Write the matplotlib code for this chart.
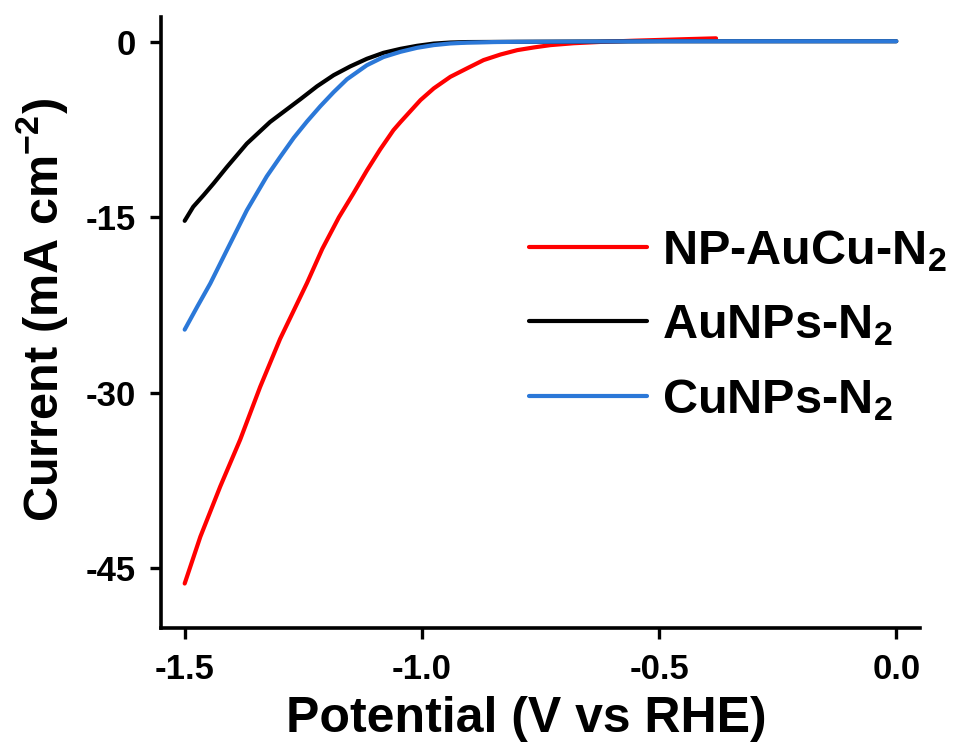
import matplotlib
matplotlib.use("Agg")
import matplotlib.pyplot as plt

plt.rcParams["font.family"] = ["Liberation Sans", "DejaVu Sans"]
plt.rcParams["font.weight"] = "bold"
plt.rcParams["mathtext.fontset"] = "custom"
plt.rcParams["mathtext.rm"] = "Liberation Sans:bold"
plt.rcParams["mathtext.default"] = "regular"

# LSV curves per catalyst (potential in V vs RHE, current in mA cm-2)
pot_aucu = [-1.500, -1.467, -1.425, -1.383, -1.341, -1.299, -1.242, -1.210, -1.175,
            -1.145, -1.116, -1.088, -1.060, -1.045, -1.003, -0.975, -0.940, -0.905,
            -0.870, -0.834, -0.799, -0.764, -0.729, -0.680, -0.620, -0.550, -0.450,
            -0.380]
cur_aucu = [-46.3, -42.3, -38.0, -34.0, -29.5, -25.4, -20.6, -17.7, -15.0,
            -13.0, -11.0, -9.2, -7.55, -6.85, -4.98, -3.98, -2.99, -2.27,
            -1.56, -1.08, -0.71, -0.48, -0.28, -0.12, 0.0, 0.10, 0.22,
            0.30]

pot_au = [-1.500, -1.482, -1.460, -1.439, -1.411, -1.369, -1.320, -1.256, -1.221,
          -1.186, -1.151, -1.116, -1.081, -1.045, -1.010, -0.975, -0.940, -0.905,
          -0.800, -0.500, 0.000]
cur_au = [-15.3, -14.1, -13.1, -12.1, -10.7, -8.7, -6.85, -4.9, -3.8,
          -2.85, -2.1, -1.45, -0.94, -0.6, -0.34, -0.15, -0.06, -0.02,
          0.0, 0.05, 0.05]

pot_cu = [-1.500, -1.473, -1.446, -1.411, -1.369, -1.327, -1.298, -1.270, -1.242,
          -1.214, -1.186, -1.158, -1.130, -1.116, -1.081, -1.045, -1.010, -0.975,
          -0.940, -0.905, -0.850, -0.800, -0.500, 0.000]
cur_cu = [-24.6, -22.6, -20.65, -17.8, -14.4, -11.5, -9.8, -8.2, -6.8,
          -5.5, -4.3, -3.2, -2.4, -2.0, -1.3, -0.85, -0.51, -0.28,
          -0.14, -0.07, -0.02, 0.0, 0.05, 0.05]

etiquetas = ["NP-AuCu-N$_2$", "AuNPs-N$_2$", "CuNPs-N$_2$"]
colores = ["#ff0000", "#000000", "#2b78d8"]

xticks = [-1.5, -1.0, -0.5, 0.0]
yticks = [0, -15, -30, -45]

fig = plt.figure(figsize=(9.65, 7.51), dpi=100)
ax = fig.add_axes([0.1668, 0.1638, 0.7866, 0.814])

for pot, cur, lab, col in zip([pot_aucu, pot_au, pot_cu],
                              [cur_aucu, cur_au, cur_cu],
                              etiquetas, colores):
    ax.plot(pot, cur, color=col, lw=3.0, label=lab, solid_capstyle="round",
            solid_joinstyle="round")

ax.set_xlim(-1.55, 0.05)
ax.set_ylim(-50.1, 2.15)
ax.set_xticks(xticks)
ax.set_xticklabels(["-1.5", "-1.0", "-0.5", "0.0"])
ax.set_yticks(yticks)
ax.set_yticklabels([str(t) for t in yticks])

for lado in ["top", "right"]:
    ax.spines[lado].set_visible(False)
for lado in ["left", "bottom"]:
    ax.spines[lado].set_linewidth(2.6)

ax.tick_params(axis="both", width=2.4, length=8, labelsize=25, pad=10)
for lab in ax.get_xticklabels() + ax.get_yticklabels():
    lab.set_fontweight("bold")

ax.set_xlabel("Potential (V vs RHE)", fontsize=36, fontweight="bold")
ax.set_ylabel("Current (mA cm$^{-2}$)", fontsize=35, fontweight="bold")
ax.xaxis.set_label_coords(0.4815, -0.112, transform=ax.transAxes)
ax.yaxis.set_label_coords(-0.12, 0.52, transform=ax.transAxes)

leg = ax.legend(loc="upper left", bbox_to_anchor=(0.4595, 0.686), frameon=False,
                fontsize=35, handlelength=2.43, handletextpad=0.31,
                labelspacing=0.6, borderaxespad=0)
for linea in leg.get_lines():
    linea.set_linewidth(3.0)

fig.savefig("out.png", dpi=100)
